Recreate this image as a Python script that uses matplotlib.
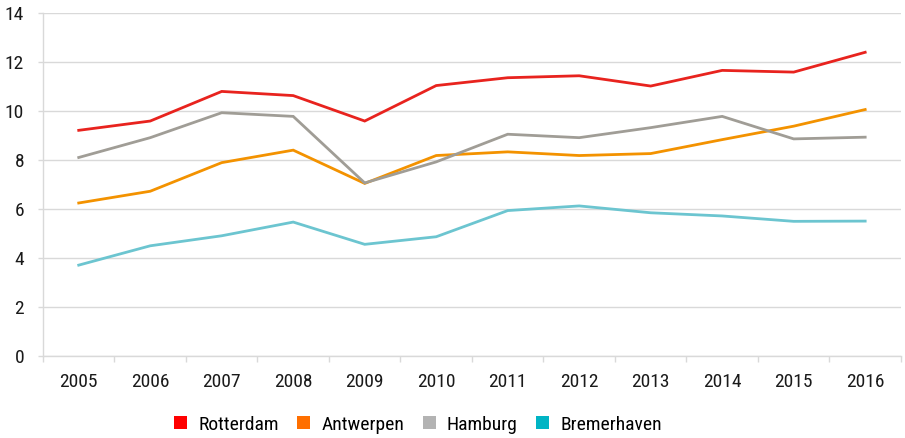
import matplotlib
matplotlib.use("Agg")
import matplotlib.pyplot as plt
from matplotlib.patches import Patch
from matplotlib import font_manager
import numpy as np

years = ["2005", "2006", "2007", "2008", "2009", "2010", "2011", "2012", "2013", "2014", "2015", "2016"]
rotterdam = [9.21, 9.59, 10.80, 10.63, 9.59, 11.04, 11.36, 11.44, 11.02, 11.66, 11.59, 12.40]
antwerpen = [6.24, 6.72, 7.89, 8.40, 7.04, 8.18, 8.33, 8.18, 8.26, 8.83, 9.38, 10.06]
hamburg = [8.10, 8.91, 9.93, 9.78, 7.06, 7.92, 9.05, 8.91, 9.32, 9.78, 8.86, 8.93]
bremerhaven = [3.70, 4.49, 4.90, 5.46, 4.55, 4.86, 5.93, 6.12, 5.84, 5.71, 5.49, 5.50]

names = ["Rotterdam", "Antwerpen", "Hamburg", "Bremerhaven"]
series = [rotterdam, antwerpen, hamburg, bremerhaven]
line_colors = ["#E8231E", "#F39200", "#A09D96", "#6CC5D0"]
legend_colors = ["#FF0000", "#FF6F00", "#B3B3B3", "#00B4C4"]

available = {f.name for f in font_manager.fontManager.ttflist}
cands = ["Roboto Condensed", "Liberation Sans Narrow", "DejaVu Sans Condensed",
         "Open Sans Condensed", "Noto Sans Condensed", "Arial Narrow"]
fam = next((c for c in cands if c in available), None)
if fam is None:
    fam = "Roboto" if "Roboto" in available else "DejaVu Sans"
    fs = 12.5
else:
    fs = 14
plt.rcParams["font.family"] = [fam, "DejaVu Sans"]

fig = plt.figure(figsize=(9.05, 4.38), dpi=100)
ax = fig.add_axes([0.0475, 0.188, 0.948, 0.782])

x = np.arange(len(years))
for vals, c in zip(series, line_colors):
    ax.plot(x, vals, color=c, lw=2.0, solid_joinstyle="miter")

ax.set_xlim(-0.5, len(years) - 0.5)
ax.set_ylim(0, 14)
ax.set_yticks(np.arange(0, 15, 2))
ax.set_xticks(x)
ax.set_xticklabels(years)
ax.set_xticks(np.arange(-0.5, len(years), 1.0), minor=True)
ax.tick_params(axis="x", which="major", length=0, pad=12.5, labelsize=fs, colors="#1a1a1a")
ax.tick_params(axis="x", which="minor", length=4.3, width=1, color="#D9D9D9", direction="out")
ax.tick_params(axis="y", length=3.6, width=1, color="#D9D9D9", pad=10, labelsize=fs, labelcolor="#1a1a1a")
ax.grid(axis="y", color="#D9D9D9", lw=1)
ax.set_axisbelow(True)
for s in ["top", "right"]:
    ax.spines[s].set_visible(False)
for s in ["left", "bottom"]:
    ax.spines[s].set_color("#D9D9D9")
    ax.spines[s].set_linewidth(1)

handles = [Patch(facecolor=c, edgecolor="none") for c in legend_colors]
fig.legend(handles, names, loc="lower center", bbox_to_anchor=(0.462, -0.03), ncol=4,
           frameon=False, fontsize=fs, handlelength=0.67, handleheight=0.67,
           handletextpad=0.57, columnspacing=0.95)

fig.savefig("out.png", dpi=100)
